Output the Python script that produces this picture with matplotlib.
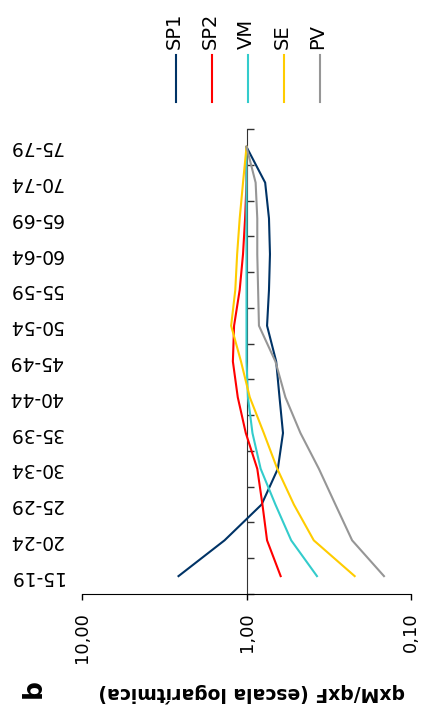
import matplotlib
matplotlib.use('Agg')
import matplotlib.pyplot as plt
import matplotlib.transforms as mtransforms
from matplotlib.lines import Line2D
from matplotlib.ticker import FixedLocator, NullLocator

plt.rcParams['font.family'] = ['DejaVu Sans']

ages = ['15-19', '20-24', '25-29', '30-34', '35-39', '40-44', '45-49',
        '50-54', '55-59', '60-64', '65-69', '70-74', '75-79']

# qxM/qxF by age group
sp1 = [2.59, 1.36, 0.81, 0.645, 0.60, 0.63, 0.66, 0.75, 0.73, 0.72, 0.73, 0.77, 1.00]
sp2 = [0.62, 0.75, 0.80, 0.86, 1.01, 1.13, 1.21, 1.19, 1.10, 1.05, 1.02, 1.00, 1.00]
vm = [0.373, 0.535, 0.667, 0.82, 0.92, 0.98, 1.00, 1.00, 1.00, 1.00, 1.00, 1.00, 1.00]
se = [0.22, 0.39, 0.515, 0.65, 0.785, 0.955, 1.08, 1.24, 1.17, 1.14, 1.10, 1.05, 1.00]
pv = [0.146, 0.228, 0.288, 0.363, 0.47, 0.58, 0.667, 0.84, 0.85, 0.86, 0.86, 0.88, 1.00]

names = ['SP1', 'SP2', 'VM', 'SE', 'PV']
series = [sp1, sp2, vm, se, pv]
colors = ['#003366', '#FF0000', '#33CCCC', '#FFCC00', '#969696']

value_ticks = [10, 1, 0.1]
value_labels = ['10,00', '1,00', '0,10']

W, H = 421, 720
fig = plt.figure(figsize=(W / 100, H / 100), dpi=100)
ax = fig.add_axes([82 / W, 126 / H, 329 / W, 465 / H])

pos = list(range(len(ages)))
for vals, c in zip(series, colors):
    ax.plot(vals, pos, color=c, lw=1.5, zorder=3, clip_on=False)

ax.set_xscale('log')
ax.set_xlim(10, 0.1)
ax.set_ylim(-0.5, len(ages) - 0.5)

# value axis (bottom)
ax.xaxis.set_major_locator(FixedLocator(value_ticks))
ax.xaxis.set_minor_locator(NullLocator())
ax.set_xticklabels(value_labels, rotation=90, fontsize=13)
ax.tick_params(axis='x', direction='out', length=4, width=1, pad=9)

# category axis crossing at 1,00
ax.spines['left'].set_position(('data', 1.0))
ax.spines['left'].set_color('#333333')
ax.spines['right'].set_visible(False)
ax.spines['top'].set_visible(False)
ax.yaxis.set_major_locator(FixedLocator([p - 0.5 for p in range(len(ages) + 1)]))
ax.yaxis.set_minor_locator(NullLocator())
ax.tick_params(axis='y', direction='in', length=5, width=1, labelleft=False,
               color='#333333')

trans = mtransforms.blended_transform_factory(ax.transAxes, ax.transData)
for p, lab in zip(pos, ages):
    ax.text(-0.058, p, lab, transform=trans, rotation=180, ha='right',
            va='center', fontsize=13.5)

fig.text(252 / W, 1 - 693 / H, 'qxM/qxF (escala logarítmica)', rotation=180,
         ha='center', va='center', fontsize=13.5, fontweight='bold')
fig.text(34 / W, 1 - 689 / H, 'b', rotation=90, ha='center', va='center',
         fontsize=19, fontweight='bold')

# legend, drawn by hand since it is rotated
for i, (n, c) in enumerate(zip(names, colors)):
    x = (176 + 36 * i) / W
    fig.add_artist(Line2D([x, x], [1 - 55 / H, 1 - 102 / H], color=c, lw=1.5,
                          transform=fig.transFigure))
    fig.text(x - 2 / W, 1 - 49 / H, n, rotation=90, ha='center', va='bottom',
             fontsize=14)

fig.savefig('out.png', dpi=100)
